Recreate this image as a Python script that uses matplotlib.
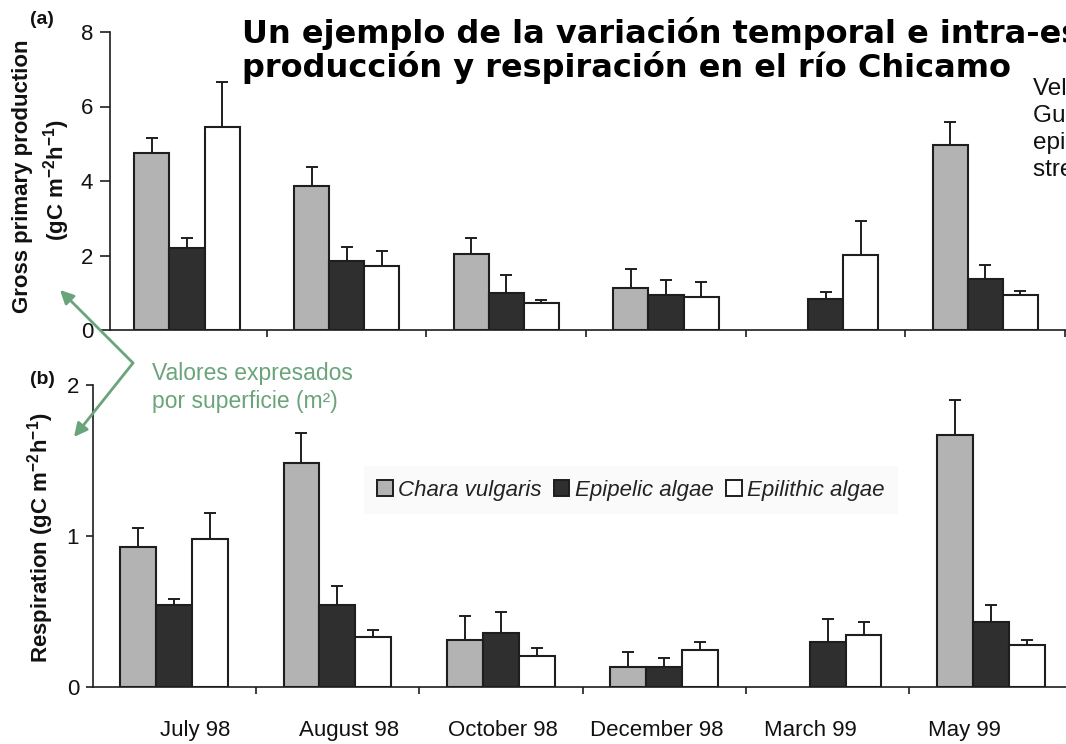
import numpy as np
import matplotlib
matplotlib.use("Agg")
import matplotlib.pyplot as plt
from matplotlib.patches import FancyArrowPatch, Patch

plt.rcParams['font.family'] = ['Liberation Sans', 'DejaVu Sans']
plt.rcParams['mathtext.default'] = 'regular'

# ---- data -------------------------------------------------------------
months = ["July 98", "August 98", "October 98", "December 98", "March 99", "May 99"]
series_names = ["Chara vulgaris", "Epipelic algae", "Epilithic algae"]

# (a) gross primary production, gC m-2 h-1 (mean and upper error)
gpp_chara = [4.74, 3.87, 2.04, 1.12, np.nan, 4.97]
gpp_chara_err = [0.42, 0.50, 0.44, 0.51, np.nan, 0.62]
gpp_epipelic = [2.19, 1.86, 0.98, 0.94, 0.83, 1.36]
gpp_epipelic_err = [0.27, 0.36, 0.50, 0.40, 0.19, 0.38]
gpp_epilithic = [5.46, 1.72, 0.72, 0.89, 2.01, 0.93]
gpp_epilithic_err = [1.19, 0.41, 0.09, 0.40, 0.92, 0.12]

# (b) respiration, gC m-2 h-1
resp_chara = [0.93, 1.485, 0.31, 0.135, np.nan, 1.67]
resp_chara_err = [0.12, 0.195, 0.16, 0.095, np.nan, 0.23]
resp_epipelic = [0.54, 0.54, 0.36, 0.135, 0.30, 0.43]
resp_epipelic_err = [0.045, 0.13, 0.14, 0.055, 0.15, 0.11]
resp_epilithic = [0.98, 0.33, 0.205, 0.245, 0.345, 0.28]
resp_epilithic_err = [0.17, 0.05, 0.055, 0.055, 0.085, 0.03]

# ---- styling ----------------------------------------------------------
W, H = 1066, 744
fills = ["#b3b3b3", "#2f2f2f", "#ffffff"]
ink = "#1e1e1e"
green = "#6aa47a"
bar_w = 0.22

fig = plt.figure(figsize=(W / 100, H / 100), dpi=100)


def px_axes(left, bottom, right, top):
    """Axes placed from pixel edges (origin top-left)."""
    return fig.add_axes([left / W, 1 - bottom / H, (right - left) / W, (bottom - top) / H])


ax_a = px_axes(110, 330, 1081, 32)
ax_b = px_axes(93, 687, 1089, 385)


def draw_panel(ax, groups, errs, ylim, yticks, ytick_len):
    x = np.arange(len(months))
    for k, (vals, err, fc) in enumerate(zip(groups, errs, fills)):
        xs = x + (k - 1) * bar_w
        vals = np.asarray(vals, float)
        err = np.asarray(err, float)
        ax.bar(xs, vals, width=bar_w, color=fc, edgecolor=ink, linewidth=1.5, zorder=2)
        ok = ~np.isnan(vals)
        ax.errorbar(xs[ok], vals[ok], yerr=[np.zeros(ok.sum()), err[ok]], fmt='none',
                    ecolor=ink, elinewidth=1.4, capsize=4.5, capthick=1.4, zorder=1)
    ax.set_ylim(*ylim)
    ax.set_yticks(yticks)
    ax.set_xticks(x + 0.5)
    ax.set_xticklabels([])
    for s in ("top", "right"):
        ax.spines[s].set_visible(False)
    for s in ("left", "bottom"):
        ax.spines[s].set_linewidth(1.2)
        ax.spines[s].set_color(ink)
    ax.tick_params(axis='y', direction='out', length=ytick_len, width=1.2, color=ink,
                   labelsize=16, pad=5, labelcolor="#111111")
    ax.tick_params(axis='x', direction='out', length=5, width=1.2, color=ink)
    ax.patch.set_alpha(0)


draw_panel(ax_a, [gpp_chara, gpp_epipelic, gpp_epilithic],
           [gpp_chara_err, gpp_epipelic_err, gpp_epilithic_err],
           (0, 8), [0, 2, 4, 6, 8], 7)
ax_a.set_xlim(-0.4825, 5.6)

draw_panel(ax_b, [resp_chara, resp_epipelic, resp_epilithic],
           [resp_chara_err, resp_epipelic_err, resp_epilithic_err],
           (0, 2), [0, 1, 2], 5)
ax_b.set_xlim(-0.496, 5.6)

# month labels under the lower panel
ax_lab = px_axes(118, 687, 1041, 686)
ax_lab.set_xlim(-0.5, 5.5)
ax_lab.set_xticks(np.arange(len(months)))
ax_lab.set_xticklabels(months, fontsize=16, color="#111111")
ax_lab.tick_params(axis='x', length=0, pad=24)
ax_lab.set_yticks([])
for s in ax_lab.spines.values():
    s.set_visible(False)
ax_lab.patch.set_alpha(0)

# legend
handles = [Patch(facecolor=fc, edgecolor=ink, linewidth=1.4, label=n)
           for fc, n in zip(fills, series_names)]
leg = ax_b.legend(handles=handles, loc='center', bbox_to_anchor=(0.54, 0.652), ncol=3,
                  prop={'size': 16, 'style': 'italic'}, handlelength=0.7, handleheight=0.7,
                  handletextpad=0.25, columnspacing=0.55, frameon=True, fancybox=False,
                  borderpad=0.6)
leg.get_frame().set_facecolor("#f9f9f9")
leg.get_frame().set_edgecolor("none")
for t in leg.get_texts():
    t.set_color("#222222")

# axis titles
fig.text(23 / W, 1 - 176 / H, "Gross primary production", rotation=90, ha='center',
         va='center', fontsize=16, fontweight='bold', color="#111111")
fig.text(57 / W, 1 - 180 / H, "(gC m$^{-2}$h$^{-1}$)", rotation=90, ha='center',
         va='center', fontsize=16, fontweight='bold', color="#111111")
fig.text(41 / W, 1 - 538 / H, "Respiration (gC m$^{-2}$h$^{-1}$)", rotation=90, ha='center',
         va='center', fontsize=16, fontweight='bold', color="#111111")
fig.text(42 / W, 1 - 20 / H, "(a)", ha='center', va='center', fontsize=14,
         fontweight='bold', color="#111111")
fig.text(42 / W, 1 - 380 / H, "(b)", ha='center', va='center', fontsize=14,
         fontweight='bold', color="#111111")

# heading
fig.text(242 / W, 1 - 43 / H, "Un ejemplo de la variación temporal e intra-específica de la",
         ha='left', va='baseline', fontsize=23, fontweight='bold', family='DejaVu Sans',
         color="#000000")
fig.text(242 / W, 1 - 77 / H, "producción y respiración en el río Chicamo",
         ha='left', va='baseline', fontsize=23, fontweight='bold', family='DejaVu Sans',
         color="#000000")

# source note
source_lines = ["Velasco, J., Millán, A., Vidal-Abarca, M.R., Suárez, M.L.,",
                "Guerrero, C. & Ortega, M. (2003) Macrophytic,",
                "epipelic and epilithic primary production in a semiarid",
                "stream. Freshwater Biology 48: 1408-1420."]
for i, line in enumerate(source_lines):
    fig.text(1033 / W, 1 - (95 + 27 * i) / H, line, ha='left', va='baseline',
             fontsize=17.5, color="#111111")

# units note with pointers to both axis titles
for i, line in enumerate(["Valores expresados", "por superficie (m²)"]):
    fig.text(152 / W, 1 - (380 + 28 * i) / H, line, ha='left', va='baseline',
             fontsize=16.5, color=green)
vertex = (133 / W, 1 - 363 / H)
for tip in [(60 / W, 1 - 290 / H), (74 / W, 1 - 437 / H)]:
    fig.add_artist(FancyArrowPatch(vertex, tip, transform=fig.transFigure,
                                   arrowstyle='-|>', mutation_scale=20, color=green,
                                   linewidth=2, shrinkA=0, shrinkB=0))

fig.savefig("out.png", dpi=100)
